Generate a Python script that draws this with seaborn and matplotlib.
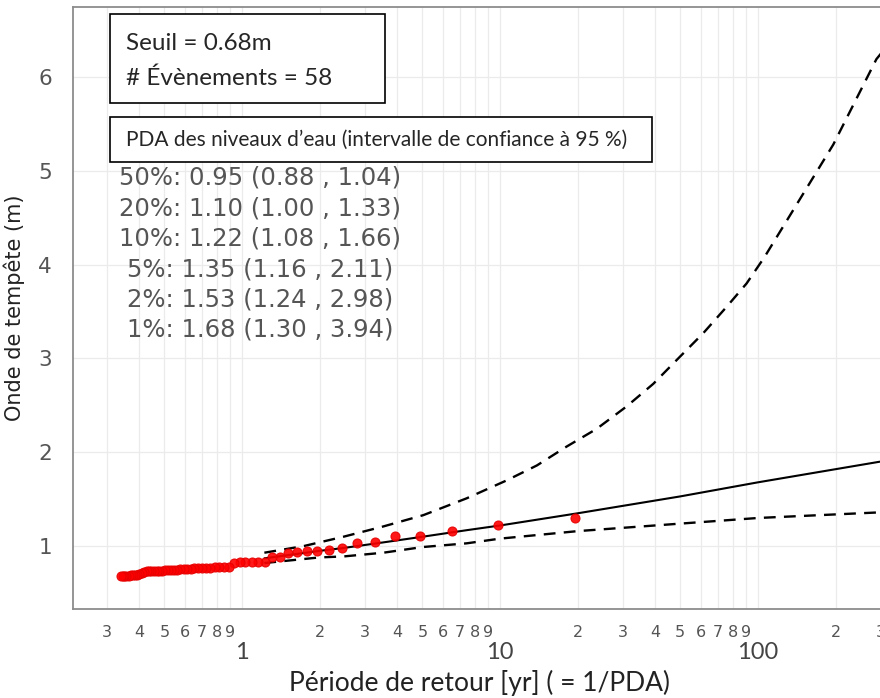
import numpy as np
import pandas as pd
import matplotlib
matplotlib.use("Agg")
import matplotlib.pyplot as plt
import seaborn as sns
from matplotlib.patches import Rectangle
from matplotlib.ticker import FixedLocator, FixedFormatter

# Observed events: return period (yr) and surge (m), largest first
obs_period = [19.6, 9.8, 6.53, 4.9, 3.92, 3.27, 2.8, 2.45, 2.18, 1.96,
              1.78, 1.63, 1.51, 1.4, 1.31, 1.23, 1.15, 1.09, 1.03, 0.98,
              0.933, 0.891, 0.852, 0.817, 0.784, 0.754, 0.726, 0.7, 0.676, 0.653,
              0.632, 0.613, 0.594, 0.576, 0.56, 0.544, 0.53, 0.516, 0.503, 0.49,
              0.478, 0.467, 0.456, 0.445, 0.436, 0.426, 0.417, 0.408, 0.4, 0.392,
              0.384, 0.377, 0.37, 0.363, 0.356, 0.35, 0.344, 0.338]
obs_surge = [1.30, 1.22, 1.16, 1.11, 1.11, 1.04, 1.035, 0.98, 0.96, 0.95,
             0.95, 0.94, 0.93, 0.88, 0.88, 0.83, 0.83, 0.83, 0.83, 0.83,
             0.82, 0.78, 0.775, 0.775, 0.775, 0.77, 0.77, 0.77, 0.765, 0.765,
             0.76, 0.76, 0.755, 0.755, 0.75, 0.75, 0.75, 0.745, 0.745, 0.74,
             0.74, 0.74, 0.735, 0.735, 0.73, 0.73, 0.72, 0.71, 0.70, 0.695,
             0.69, 0.69, 0.69, 0.685, 0.685, 0.68, 0.68, 0.68]

# Fitted return level curve and lower 95% bound
fit_period = [1.22, 2, 2.47, 3.53, 5, 7.43, 10, 20, 50, 100, 297]
fit_level = [0.87, 0.95, 0.98, 1.04, 1.10, 1.17, 1.22, 1.35, 1.53, 1.68, 1.90]
low_level = [0.82, 0.88, 0.89, 0.93, 0.99, 1.03, 1.08, 1.16, 1.24, 1.30, 1.36]
# upper 95% bound
up_period = [1.22, 1.73, 2.47, 3.53, 5.04, 7.43, 10.6, 13.9, 18.1, 23.7, 31.0,
             39.3, 49.9, 61.4, 75.6, 90.4, 106, 196, 288, 300]
up_level = [0.93, 1.00, 1.10, 1.21, 1.33, 1.51, 1.70, 1.86, 2.06, 2.25, 2.49,
            2.73, 3.02, 3.27, 3.55, 3.80, 4.08, 5.28, 6.19, 6.25]

stats_lines = ["50%: 0.95 (0.88 , 1.04)", "20%: 1.10 (1.00 , 1.33)",
               "10%: 1.22 (1.08 , 1.66)", "5%: 1.35 (1.16 , 2.11)",
               "2%: 1.53 (1.24 , 2.98)", "1%: 1.68 (1.30 , 3.94)"]

minor_ticks = [0.3, 0.4, 0.5, 0.6, 0.7, 0.8, 0.9, 2, 3, 4, 5, 6, 7, 8, 9,
               20, 30, 40, 50, 60, 70, 80, 90, 200, 300]
minor_labels = ["3", "4", "5", "6", "7", "8", "9", "2", "3", "4", "5", "6", "7", "8", "9",
                "2", "3", "4", "5", "6", "7", "8", "9", "2", "3"]

sns.set_theme(style="white")
plt.rcParams['font.family'] = ['DejaVu Sans']

fig = plt.figure(figsize=(8.8, 6.98), dpi=100)
ax = fig.add_axes([73 / 880, 89 / 698, 812 / 880, 602 / 698])

obs = pd.DataFrame({'period': obs_period, 'surge': obs_surge})
fit = pd.DataFrame({'period': fit_period, 'fit': fit_level, 'low': low_level})
up = pd.DataFrame({'period': up_period, 'up': up_level})

sns.lineplot(data=fit, x='period', y='fit', color='black', lw=1.5, ax=ax, estimator=None, sort=False)
sns.lineplot(data=fit, x='period', y='low', color='black', lw=1.7, ax=ax, estimator=None, sort=False,
             linestyle=(0, (5, 3.5)))
sns.lineplot(data=up, x='period', y='up', color='black', lw=1.7, ax=ax, estimator=None, sort=False,
             linestyle=(0, (5, 3.5)))
sns.scatterplot(data=obs, x='period', y='surge', color='red', s=42, edgecolor='#e60000',
                linewidth=0.8, alpha=0.9, ax=ax, zorder=5)

ax.set_xscale('log')
ax.set_xlim(0.221, 311)
ax.set_ylim(0.33, 6.746)

ax.xaxis.set_major_locator(FixedLocator([1, 10, 100]))
ax.xaxis.set_major_formatter(FixedFormatter(["1", "10", "100"]))
ax.xaxis.set_minor_locator(FixedLocator(minor_ticks))
ax.xaxis.set_minor_formatter(FixedFormatter(minor_labels))
ax.set_yticks([1, 2, 3, 4, 5, 6])

ax.tick_params(axis='x', which='major', length=0, pad=24, labelsize=17, labelcolor='#444444')
ax.tick_params(axis='x', which='minor', length=0, pad=11.5, labelsize=11.5, labelcolor='#555555')
ax.tick_params(axis='y', length=0, pad=15, labelsize=15.5, labelcolor='#555555')
for lab in ax.get_xticklabels(which='major'):
    lab.set_family('Lato')

ax.grid(which='major', color='#ebebeb', lw=0.9)
ax.xaxis.grid(which='minor', color='#ebebeb', lw=0.9)

for side in ['left', 'bottom', 'top']:
    ax.spines[side].set_color('#8c8c8c')
    ax.spines[side].set_linewidth(1.3)
ax.spines['right'].set_visible(False)

ax.set_xlabel('Période de retour [yr] ( = 1/PDA)', fontsize=19, family='Lato', color='#222222', labelpad=5)
ax.set_ylabel('Onde de tempête (m)', fontsize=15, color='#222222', labelpad=10)

# info boxes
fig.patches.append(Rectangle((110 / 880, 1 - 103 / 698), 275 / 880, 89 / 698, transform=fig.transFigure,
                             facecolor='white', edgecolor='black', lw=1.2, zorder=10))
fig.text(126 / 880, 1 - 43 / 698, 'Seuil = 0.68m', fontsize=17.5, family='Lato', va='center', zorder=11)
fig.text(126 / 880, 1 - 78 / 698, '# Évènements = 58', fontsize=17.5, family='Lato', va='center', zorder=11)

fig.patches.append(Rectangle((110 / 880, 1 - 162 / 698), 542 / 880, 45 / 698, transform=fig.transFigure,
                             facecolor='white', edgecolor='black', lw=1.2, zorder=10))
fig.text(126 / 880, 1 - 140 / 698, 'PDA des niveaux d’eau (intervalle de confiance à 95 %)',
         fontsize=15, family='Lato', va='center', zorder=11)

for i, line in enumerate(stats_lines):
    fig.text(260 / 880, 1 - (178 + 30.4 * i) / 698, line, fontsize=17.5, color='#555555',
             family='DejaVu Sans', ha='center', va='center')

fig.savefig('out.png', dpi=100)
